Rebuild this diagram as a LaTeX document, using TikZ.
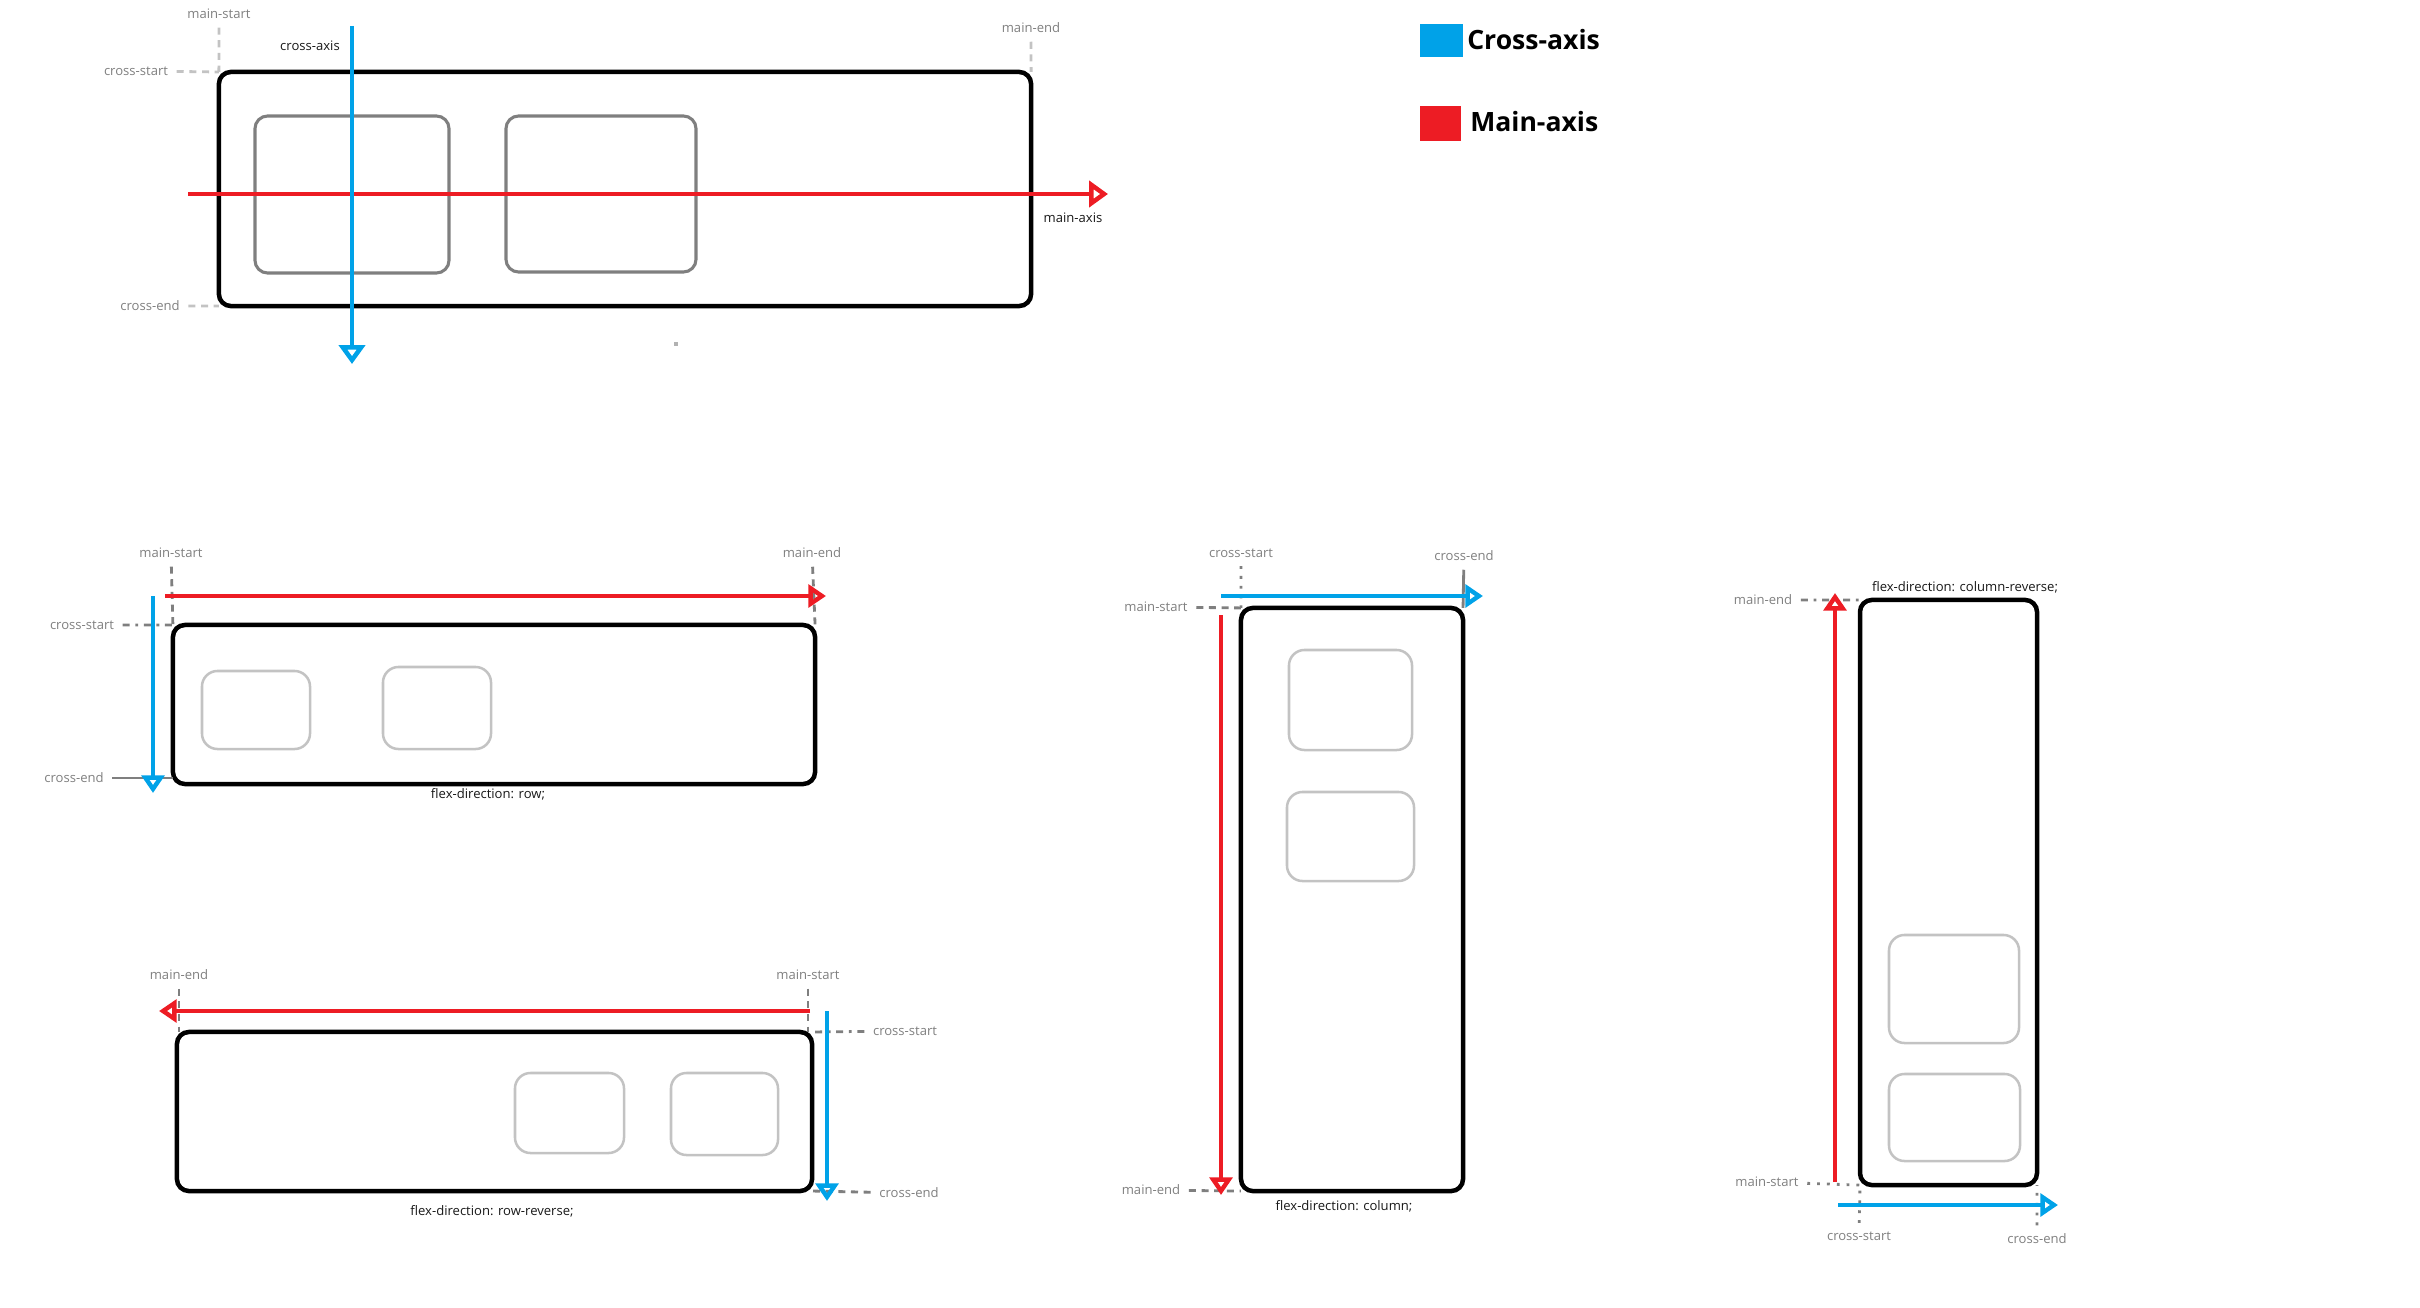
\documentclass[tikz,border=0pt]{standalone}
\usepackage{fontspec}
\setmainfont{Open Sans}
\usetikzlibrary{arrows.meta}

\definecolor{axisred}{HTML}{ED1C24}
\definecolor{axisblue}{HTML}{00A2E8}
\definecolor{guidegray}{HTML}{7F7F7F}
\definecolor{softgray}{HTML}{C3C3C3}

\begin{document}
\begin{tikzpicture}[
  x=0.025cm, y=-0.025cm,
  font=\fontsize{9.3}{11}\selectfont,
  flexbox/.style={draw, line width=3.2pt, rounded corners=8.5pt, inner sep=0pt, outer sep=0pt},
  item/.style={draw=softgray, line width=1.8pt, rounded corners=11pt, inner sep=0pt, outer sep=0pt},
  bigitem/.style={item, draw=guidegray, line width=2.2pt, rounded corners=9pt},
  key/.style={inner sep=0pt, outer sep=0pt},
  legend/.style={font=\fontsize{18.9}{22}\selectfont\bfseries, anchor=base west, inner sep=0pt},
  tag/.style={text=black!50, inner sep=2pt},
  caption/.style={text=black!90, inner sep=1pt},
  guide/.style={draw=guidegray, line width=2pt, dash pattern=on 5pt off 4pt, shorten <=4pt},
  dotguide/.style={guide, dash pattern=on 2pt off 5pt},
  mixguide/.style={guide, dash pattern=on 5pt off 4pt on 2pt off 4pt},
  softguide/.style={guide, draw=softgray},
  mainarr/.style={draw=axisred, line width=3.4pt, -{Triangle[open,length=12.5pt,width=16pt]}},
  crossarr/.style={mainarr, draw=axisblue},
  bigmain/.style={mainarr, line width=3.2pt, -{Triangle[open,length=13.5pt,width=18.5pt]}},
  bigcross/.style={bigmain, draw=axisblue}
]
\useasboundingbox (0,0) rectangle (2420,1308);

% overview: container with two items and both axes
\node[flexbox, minimum width=20.3cm, minimum height=5.85cm] (topbox) at (625,189) {};
\node[bigitem, minimum width=4.85cm, minimum height=3.925cm] (topA) at (352,194.5) {};
\node[bigitem, minimum width=4.75cm, minimum height=3.9cm] (topB) at (601,194) {};
\node[tag] (t-ms) at (219,14) {main-start};
\node[tag] (t-me) at (1031,28) {main-end};
\node[tag] (t-cs) at (136,71) {cross-start};
\node[tag] (t-ce) at (150,306) {cross-end};
\node[caption] (t-ca) at (310,46) {cross-axis};
\node[caption] (t-ma) at (1073,218) {main-axis};
\draw[softguide] (t-ms) -- (topbox.north west);
\draw[softguide] (t-me) -- (topbox.north east);
\draw[softguide] (t-cs) -- (topbox.north west);
\draw[softguide] (t-ce) -- (topbox.south west);
\coordinate (tm0) at (188,194);
\coordinate (tm1) at (1108,194);
\coordinate (tc0) at (352,26);
\coordinate (tc1) at (352,364);
\draw[bigmain]  (tm0) -- (tm1);
\draw[bigcross] (tc0) -- (tc1);
\fill[black!30] (674,342) rectangle (678,346);

% legend
\node[key, fill=axisblue, minimum width=1.075cm, minimum height=0.825cm] (keyblue) at (1441.5,40.5) {};
\node[legend] (keybluetxt) at (1467,50) {Cross-axis};
\node[key, fill=axisred, minimum width=1.025cm, minimum height=0.875cm] (keyred) at (1440.5,123.5) {};
\node[legend] (keyredtxt) at (1470,132) {Main-axis};

% flex-direction: row
\node[flexbox, minimum width=16.05cm, minimum height=3.975cm] (rowbox) at (494,704.5) {};
\node[item, minimum width=2.7cm, minimum height=1.95cm] (rowA) at (256,710) {};
\node[item, minimum width=2.7cm, minimum height=2.05cm] (rowB) at (437,708) {};
\node[tag] (r-ms) at (171,553) {main-start};
\node[tag] (r-me) at (812,553) {main-end};
\node[tag] (r-cs) at (82,625) {cross-start};
\node[tag] (r-ce) at (74,778) {cross-end};
\node[caption] (r-cap) at (488,794) {flex-direction: row;};
\draw[guide] (r-ms) -- (rowbox.north west);
\draw[guide] (r-me) -- (rowbox.north east);
\draw[mixguide] (r-cs) -- (rowbox.north west);
\draw[guide, solid] (r-ce) -- (r-ce -| rowbox.west);
\coordinate (rm0) at (165,596);
\coordinate (rm1) at (826,596);
\coordinate (rc0) at (153,596);
\coordinate (rc1) at (153,793);
\draw[mainarr]  (rm0) -- (rm1);
\draw[crossarr] (rc0) -- (rc1);

% flex-direction: row-reverse
\node[flexbox, minimum width=15.875cm, minimum height=3.975cm] (revbox) at (494.5,1111.5) {};
\node[item, minimum width=2.725cm, minimum height=2cm] (revA) at (569.5,1113) {};
\node[item, minimum width=2.675cm, minimum height=2.05cm] (revB) at (724.5,1114) {};
\node[tag] (v-me) at (179,975) {main-end};
\node[tag] (v-ms) at (808,975) {main-start};
\node[tag] (v-cs) at (905,1031) {cross-start};
\node[tag] (v-ce) at (909,1193) {cross-end};
\node[caption] (v-cap) at (492,1211) {flex-direction: row-reverse;};
\draw[guide] (v-me) -- (v-me |- revbox.north);
\draw[guide] (v-ms) -- (v-ms |- revbox.north);
\draw[mixguide] (v-cs) -- (revbox.north east);
\draw[guide] (v-ce) -- (revbox.south east);
\coordinate (vm0) at (810,1011);
\coordinate (vm1) at (159,1011);
\coordinate (vc0) at (827,1011);
\coordinate (vc1) at (827,1201);
\draw[mainarr]  (vm0) -- (vm1);
\draw[crossarr] (vc0) -- (vc1);

% flex-direction: column
\node[flexbox, minimum width=5.55cm, minimum height=14.575cm] (colbox) at (1352,899.5) {};
\node[item, minimum width=3.075cm, minimum height=2.5cm] (colA) at (1350.5,700) {};
\node[item, minimum width=3.175cm, minimum height=2.225cm] (colB) at (1350.5,836.5) {};
\node[tag] (c-cs) at (1241,553) {cross-start};
\node[tag] (c-ce) at (1464,556) {cross-end};
\node[tag] (c-ms) at (1156,607) {main-start};
\node[tag] (c-me) at (1151,1190) {main-end};
\node[caption] (c-cap) at (1344,1206) {flex-direction: column;};
\draw[dotguide] (c-cs) -- (colbox.north west);
\draw[guide, solid] (c-ce) -- (colbox.north east);
\draw[guide] (c-ms) -- (colbox.north west);
\draw[guide] (c-me) -- (colbox.south west);
\coordinate (cc0) at (1221,596);
\coordinate (cc1) at (1483,596);
\coordinate (cm0) at (1221,615);
\coordinate (cm1) at (1221,1195);
\draw[crossarr] (cc0) -- (cc1);
\draw[mainarr]  (cm0) -- (cm1);

% flex-direction: column-reverse
\node[flexbox, minimum width=4.425cm, minimum height=14.625cm] (crbox) at (1948.5,892.5) {};
\node[item, minimum width=3.25cm, minimum height=2.7cm] (crA) at (1954,989) {};
\node[item, minimum width=3.275cm, minimum height=2.175cm] (crB) at (1954.5,1117.5) {};
\node[tag] (k-me) at (1763,600) {main-end};
\node[tag] (k-ms) at (1767,1182) {main-start};
\node[tag] (k-cs) at (1859,1236) {cross-start};
\node[tag] (k-ce) at (2037,1239) {cross-end};
\node[caption] (k-cap) at (1965,587) {flex-direction: column-reverse;};
\draw[mixguide] (k-me) -- (crbox.north west);
\draw[dotguide] (k-ms) -- (crbox.south west);
\draw[dotguide] (k-cs) -- (crbox.south west);
\draw[dotguide] (k-ce) -- (crbox.south east);
\coordinate (km0) at (1835,1182);
\coordinate (km1) at (1835,593);
\coordinate (kc0) at (1838,1205);
\coordinate (kc1) at (2058,1205);
\draw[mainarr]  (km0) -- (km1);
\draw[crossarr] (kc0) -- (kc1);

\end{tikzpicture}
\end{document}
